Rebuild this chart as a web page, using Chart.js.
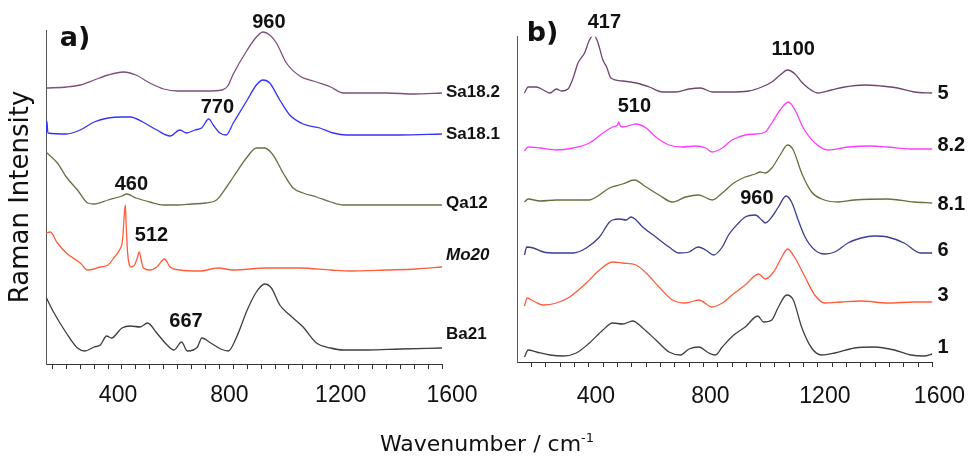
<!DOCTYPE html>
<html><head><meta charset="utf-8">
<script src="https://cdn.jsdelivr.net/npm/chart.js@4.4.0/dist/chart.umd.min.js"></script>
<style>
html,body{margin:0;padding:0;background:#fff;width:974px;height:456px;overflow:hidden}
#wrap{position:relative;width:974px;height:456px}
canvas{position:absolute;left:0;top:0}
#xtitle{position:absolute;left:0;width:974px;top:431px;line-height:26px;text-align:center;font-family:"DejaVu Sans";font-size:22px;color:#111}
#xtitle sup{font-size:13px;vertical-align:9px;line-height:0}
</style></head><body>
<div id="wrap">
<canvas id="ca" width="974" height="456"></canvas>
<canvas id="cb" width="974" height="456"></canvas>
<div id="xtitle">Wavenumber / cm<sup>-1</sup></div>
</div>
<script>
// ---------- x-axis ticks ----------
const tickValues = [200,250,300,350,400,450,500,550,600,650,700,750,800,850,900,950,1000,1050,1100,1150,1200,1250,1300,1350,1400,1450,1500,1550,1600];
const tickLabels = [400,800,1200,1600];

// ---------- panel a) spectra: [wavenumber, stacked intensity] ----------
const sa182 = [[177,276],[252,277],[300,279],[350,284],[400,289],[455,292],[500,289],[550,281],[600,275],[650,273],[700,273],[750,273],[810,274],[830,278],[850,290],[900,314],[933,327],[957,332],[981,329],[1005,321],[1041,301],[1089,288],[1149,282],[1200,277],[1245,271],[1300,271],[1400,271],[1500,270],[1600,271]];
const sa181 = [[177,231],[180,243],[184,231],[250,230],[300,234],[350,242],[400,246],[450,247],[480,247],[525,242],[575,234],[623,228],[658,234],[682,231],[712,234],[736,236],[762,245],[778,239],[802,231],[824,229],[850,241],[900,264],[933,279],[957,284],[981,281],[1017,264],[1053,249],[1101,240],[1161,236],[1209,231],[1257,229],[1330,229],[1450,229],[1600,230]];
const qa12 = [[177,212],[218,201],[250,187],[290,174],[327,161],[350,160],[400,164],[450,168],[467,170],[500,166],[550,162],[600,159],[650,159],[700,160],[750,161],[790,164],[826,177],[850,187],[900,207],[933,216],[963,216],[993,209],[1029,191],[1065,176],[1101,171],[1149,167],[1200,162],[1245,159],[1330,159],[1450,159],[1600,159]];
const mo20 = [[177,131],[192,132],[218,121],[250,111],[300,101],[327,94],[350,95],[372,97],[400,99],[423,107],[441,114],[452,124],[458,148],[462,159],[465,140],[470,112],[483,97],[495,99],[505,106],[512,112],[519,104],[527,96],[551,94],[575,97],[603,105],[623,97],[658,94],[730,93],[796,96],[850,94],[969,96],[1089,96],[1200,94],[1269,93],[1400,94],[1508,95],[1600,97]];
const ba21 = [[177,67],[206,51],[250,31],[290,16],[316,13],[350,17],[372,19],[395,28],[412,26],[450,36],[480,38],[515,37],[542,41],[575,31],[612,19],[637,14],[664,22],[685,13],[721,17],[737,26],[769,21],[805,15],[832,13],[862,27],[900,54],[933,72],[963,80],[987,76],[1017,59],[1053,49],[1101,37],[1149,21],[1200,16],[1245,14],[1330,14],[1450,15],[1600,16]];

// ---------- panel b) spectra ----------
const s5 = [[175,269],[188,275],[217,275],[241,272],[264,269],[287,273],[304,271],[327,273],[345,284],[362,299],[385,309],[402,322],[417,327],[431,320],[449,302],[462,295],[477,284],[518,281],[565,279],[611,275],[657,270],[703,270],[750,273],[790,274],[831,270],[888,270],[958,271],[1004,275],[1039,280],[1068,287],[1094,292],[1120,288],[1143,280],[1166,274],[1201,269],[1247,272],[1293,275],[1363,277],[1420,276],[1478,274],[1536,270],[1600,269]];
const s82 = [[175,211],[188,215],[229,214],[287,212],[345,214],[402,219],[449,229],[483,235],[500,237],[504,240],[510,236],[518,235],[565,238],[600,234],[634,225],[680,217],[726,215],[773,216],[808,214],[831,210],[866,214],[900,222],[946,227],[981,228],[1016,230],[1039,239],[1068,252],[1097,260],[1120,252],[1149,234],[1190,219],[1236,212],[1305,215],[1386,216],[1443,215],[1525,213],[1600,213]];
const s81 = [[175,160],[188,163],[229,161],[287,162],[356,162],[402,162],[426,165],[472,174],[518,178],[559,182],[600,175],[645,167],[692,160],[738,165],[784,167],[831,162],[866,169],[906,179],[946,185],[981,188],[998,190],[1016,189],[1039,194],[1068,207],[1094,217],[1114,212],[1143,189],[1178,170],[1213,163],[1270,160],[1328,162],[1443,163],[1536,160],[1600,159]];
const s6 = [[175,107],[183,115],[206,114],[241,110],[287,109],[345,109],[391,114],[437,125],[472,140],[483,142],[507,143],[530,142],[547,145],[565,142],[588,135],[634,125],[680,115],[715,109],[750,110],[782,115],[808,112],[836,107],[866,115],[888,127],[923,139],[946,145],[981,147],[1004,142],[1016,139],[1039,145],[1062,155],[1089,166],[1108,160],[1131,142],[1155,125],[1189,112],[1224,108],[1259,110],[1305,119],[1351,124],[1397,126],[1443,125],[1501,119],[1559,109],[1600,109]];
const s3 = [[175,56],[185,64],[206,61],[241,57],[287,59],[333,65],[391,79],[437,92],[483,100],[518,99],[565,97],[600,89],[645,75],[692,62],[738,59],[784,62],[831,55],[866,59],[900,67],[946,77],[993,88],[1016,83],[1045,90],[1074,105],[1094,113],[1120,104],[1155,85],[1189,67],[1224,59],[1282,60],[1351,61],[1443,59],[1536,60],[1600,60]];
const s1 = [[175,5],[188,12],[217,10],[264,7],[310,6],[356,9],[402,19],[449,32],[483,39],[518,38],[553,41],[588,34],[634,22],[680,10],[720,7],[750,13],[784,15],[819,9],[842,7],[866,15],[906,27],[946,35],[990,46],[1010,40],[1039,42],[1062,55],[1091,67],[1114,62],[1143,35],[1178,14],[1213,7],[1259,9],[1328,14],[1397,15],[1467,12],[1525,7],[1571,6],[1600,8]];

// ---------- labels ----------
const namesA = ['Sa18.2','Sa18.1','Qa12','Mo20','Ba21'];
const nameYA = [271.5,230,160.5,109,30];
const namesB = ['5','8.2','8.1','6','3','1'];
const nameYB = [268.5,216.3,157.5,112,66.5,14.5];
const peakTextA = ['960','770','460','512','667'];
const peakWA = [978,793,484,556,680];
const peakYA = [341.5,256.5,179.5,128.5,42.5];
const peakTextB = ['417','1100','510','960'];
const peakWB = [454,1114,559,987];
const peakYB = [339.5,312.5,255.5,163.5];

const colorsA = ['#7d4f7b','#3434f4','#6e6c47','#ff5c3c','#3e3e3e'];
const colorsB = ['#6f4571','#ff3cff','#6c6c3c','#3c3c90','#ff5c3c','#404040'];

const textPlugin = {
  id: 'texts',
  afterDatasetsDraw(chart, args, o) {
    const {ctx, chartArea, scales} = chart;
    ctx.save();
    ctx.fillStyle = '#111';
    ctx.textBaseline = 'middle';
    ctx.textAlign = 'center';
    ctx.font = 'bold 20px "Liberation Sans"';
    o.peakText.forEach((t, i) => ctx.fillText(t, scales.x.getPixelForValue(o.peakW[i]), scales.y.getPixelForValue(o.peakY[i])));
    ctx.textAlign = 'left';
    o.names.forEach((n, i) => {
      ctx.font = (o.italic.includes(n) ? 'italic ' : '') + 'bold ' + o.nameSize + 'px "Liberation Sans"';
      ctx.fillText(n, chartArea.right + o.gap, scales.y.getPixelForValue(o.nameY[i]));
    });
    ctx.textAlign = 'center';
    ctx.font = 'bold 27px "DejaVu Sans"';
    ctx.fillText(o.letter, chartArea.left + o.letterDx, chartArea.top + o.letterDy);
    ctx.restore();
  }
};

function ds(data, color) {
  return {data: data.map(p => ({x: p[0], y: p[1]})), borderColor: color, borderWidth: 1.3,
          pointRadius: 0, fill: false, cubicInterpolationMode: 'monotone'};
}

function xAxis(min, labelOffset, pad, h) {
  return {
    type: 'linear', min: min, max: 1600,
    afterBuildTicks(s) { s.ticks = tickValues.map(v => ({value: v})); },
    afterFit(s) { s.height = h; },
    ticks: {autoSkip: false, maxRotation: 0, minRotation: 0, labelOffset: labelOffset, padding: pad,
            color: '#111', font: {family: 'Liberation Sans', size: 23},
            callback: v => tickLabels.includes(v) ? String(v) : ''},
    grid: {drawOnChartArea: false, drawTicks: true, tickLength: 5, color: '#333', lineWidth: 1},
    border: {display: true, color: '#333', width: 1}
  };
}

new Chart(document.getElementById('ca'), {
  type: 'line',
  data: {datasets: [ds(sa182, colorsA[0]), ds(sa181, colorsA[1]), ds(qa12, colorsA[2]), ds(mo20, colorsA[3]), ds(ba21, colorsA[4])]},
  options: {
    responsive: false, animation: false, devicePixelRatio: 1,
    layout: {padding: {left: 0, top: 30, right: 532, bottom: 0}},
    plugins: {legend: {display: false}, tooltip: {enabled: false},
      texts: {peakText: peakTextA, peakW: peakWA, peakY: peakYA, names: namesA, nameY: nameYA, italic: ['Mo20'],
              nameSize: 17, gap: 4, letter: 'a)', letterDx: 29, letterDy: 8.5}},
    scales: {
      x: xAxis(177, 10, 13, 92),
      y: {type: 'linear', min: 0, max: 334,
          afterFit(s) { s.width = 46; },
          ticks: {display: false}, grid: {display: false},
          border: {display: true, color: '#555', width: 1},
          title: {display: true, text: 'Raman Intensity', color: '#111',
                  font: {family: 'DejaVu Sans', size: 26}, padding: {top: 6, bottom: 0}}}
    }
  },
  plugins: [textPlugin]
});

new Chart(document.getElementById('cb'), {
  type: 'line',
  data: {datasets: [ds(s5, colorsB[0]), ds(s82, colorsB[1]), ds(s81, colorsB[2]), ds(s6, colorsB[3]), ds(s3, colorsB[4]), ds(s1, colorsB[5])]},
  options: {
    responsive: false, animation: false, devicePixelRatio: 1,
    layout: {padding: {left: 507.5, top: 36.7, right: 39, bottom: 0}},
    plugins: {legend: {display: false}, tooltip: {enabled: false},
      texts: {peakText: peakTextB, peakW: peakWB, peakY: peakYB, names: namesB, nameY: nameYB, italic: [],
              nameSize: 20, gap: 5, letter: 'b)', letterDx: 25, letterDy: -3}},
    scales: {
      x: xAxis(150.7, 7, 16, 94),
      y: {type: 'linear', min: 0, max: 325.3,
          afterFit(s) { s.width = 10; },
          ticks: {display: false}, grid: {display: false},
          border: {display: true, color: '#555', width: 1}}
    }
  },
  plugins: [textPlugin]
});
</script>
</body></html>
